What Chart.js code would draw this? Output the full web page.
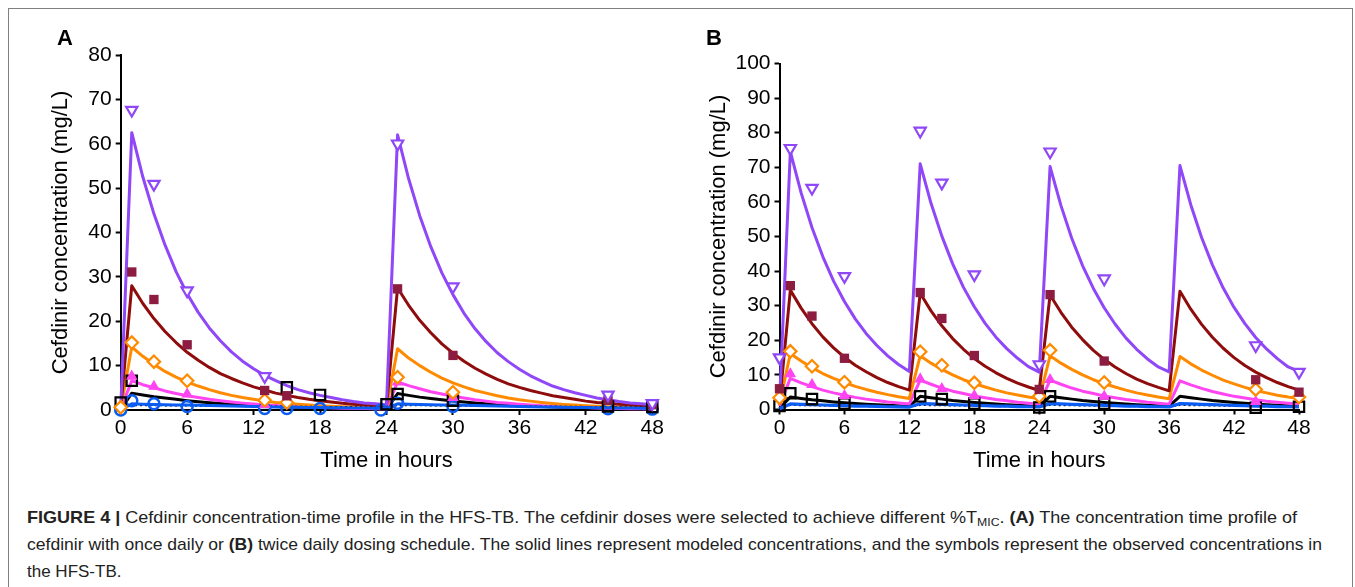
<!DOCTYPE html>
<html>
<head>
<meta charset="utf-8">
<script src="https://cdn.jsdelivr.net/npm/chart.js@4.4.1/dist/chart.umd.min.js"></script>
<style>
  html, body { margin:0; padding:0; background:#fff; }
  body { width:1355px; height:587px; position:relative; overflow:hidden; font-family:"Liberation Sans", Arial, sans-serif; }
  #frame { position:absolute; left:8px; top:8px; width:1345px; height:600px; border:1px solid #808080; box-sizing:border-box; }
  canvas { position:absolute; top:0; }
  #cA { left:0; }
  #cB { left:680px; }
  .plab { position:absolute; font-weight:bold; font-size:22px; line-height:22px; color:#000; }
  .cap { position:absolute; left:27px; font-size:17px; line-height:27px; color:#222; white-space:nowrap; transform-origin:0 50%; }
  .cap b { color:#222; }
  sub { font-size:0.68em; vertical-align:-0.25em; line-height:0; }
</style>
</head>
<body>
<div id="frame"></div>
<canvas id="cA" width="680" height="480"></canvas>
<canvas id="cB" width="675" height="480"></canvas>
<div class="plab" style="left:57px; top:27px;">A</div>
<div class="plab" style="left:706px; top:27px;">B</div>
<div class="cap" id="cap1" data-w="1270" style="top:504px;"><b>FIGURE 4 |</b> Cefdinir concentration-time profile in the HFS-TB. The cefdinir doses were selected to achieve different %T<sub>MIC</sub>. <b>(A)</b> The concentration time profile of</div>
<div class="cap" id="cap2" data-w="1295" style="top:531px;">cefdinir with once daily or <b>(B)</b> twice daily dosing schedule. The solid lines represent modeled concentrations, and the symbols represent the observed concentrations in</div>
<div class="cap" id="cap3" style="top:558px;">the HFS-TB.</div>
<script>
// ---------- tick labels / axes ----------
const xTicks = [0, 6, 12, 18, 24, 30, 36, 42, 48];
const yMaxA = 80, yMaxB = 100, yStep = 10;
const xTitle = "Time in hours";
const yTitle = "Cefdinir concentration (mg/L)";

// ---------- model time grid ----------
const hours = [0,1,2,3,4,5,6,7,8,9,10,11,12,13,14,15,16,17,18,19,20,21,22,23,24,25,26,27,28,29,30,31,32,33,34,35,36,37,38,39,40,41,42,43,44,45,46,47,48];

// ---------- Panel A: modeled (once daily) ----------
const purpleModelA = [0.3,62.5,52.5,44.2,37.2,31.2,26.2,22.0,18.5,15.6,13.1,11.0,9.3,7.8,6.6,5.5,4.6,3.9,3.3,2.8,2.3,1.9,1.6,1.4,1.2,
  62.0,52.1,43.8,36.8,30.9,26.0,21.8,18.3,15.4,12.9,10.9,9.2,7.7,6.5,5.4,4.6,3.9,3.3,2.7,2.3,1.9,1.6,1.4,1.2];
const darkredModelA = [0.3,28.0,24.0,20.6,17.7,15.2,13.0,11.2,9.6,8.2,7.1,6.1,5.2,4.5,3.8,3.3,2.8,2.4,2.1,1.8,1.5,1.3,1.1,1.0,0.9,
  27.5,23.6,20.2,17.4,14.9,12.8,11.0,9.4,8.1,6.9,5.9,5.1,4.4,3.8,3.2,2.8,2.4,2.0,1.7,1.5,1.3,1.1,1.0,0.9];
const orangeModelA = [0.3,14.2,12.1,10.3,8.7,7.4,6.3,5.4,4.6,3.9,3.3,2.8,2.4,2.0,1.7,1.5,1.3,1.1,0.95,0.85,0.75,0.68,0.62,0.56,0.5,
  13.8,11.7,10.0,8.5,7.2,6.1,5.2,4.4,3.8,3.2,2.7,2.3,2.0,1.7,1.45,1.25,1.1,0.95,0.85,0.75,0.68,0.62,0.56,0.5];
const pinkModelA = [0.2,6.6,5.7,5.0,4.3,3.7,3.2,2.8,2.4,2.1,1.8,1.55,1.35,1.15,1.0,0.87,0.75,0.65,0.56,0.48,0.42,0.36,0.31,0.27,0.24,
  6.3,5.5,4.8,4.1,3.6,3.1,2.7,2.3,2.0,1.7,1.5,1.3,1.1,0.95,0.82,0.71,0.62,0.54,0.46,0.4,0.35,0.3,0.26,0.23];
const blackModelA = [0.1,3.8,3.4,3.0,2.7,2.4,2.1,1.85,1.65,1.45,1.3,1.15,1.0,0.9,0.8,0.7,0.62,0.55,0.49,0.43,0.38,0.34,0.3,0.27,0.24,
  3.7,3.3,2.9,2.6,2.3,2.05,1.8,1.6,1.4,1.25,1.1,0.98,0.87,0.77,0.68,0.6,0.53,0.47,0.42,0.37,0.33,0.29,0.26,0.23];
const blueModelA = [0.0,1.4,1.3,1.25,1.2,1.15,1.1,1.05,1.0,0.95,0.9,0.85,0.8,0.75,0.7,0.66,0.62,0.58,0.55,0.52,0.49,0.46,0.43,0.4,0.38,
  1.4,1.3,1.25,1.2,1.15,1.1,1.05,1.0,0.95,0.9,0.85,0.8,0.75,0.7,0.66,0.62,0.58,0.55,0.52,0.49,0.46,0.43,0.4,0.38];
const dottedTimesA = [0,1,6,12,18,24,25,30,36,42,48];
const dottedModelA = [0.2,1.1,1.0,0.85,0.7,0.6,1.1,1.0,0.85,0.7,0.6];

// ---------- Panel A: observed ----------
const purpleObsTA = [1,3,6,13,25,30,44,48];
const purpleObsA  = [67.6,50.9,26.9,7.6,60,27.8,3.4,1.5];
const darkredObsTA = [1,3,6,13,15,25,30,44,48];
const darkredObsA  = [31.1,24.9,14.7,4.4,3.2,27.3,12.3,2.2,1.2];
const orangeObsTA = [0,1,3,6,13,15,25,30];
const orangeObsA  = [0.6,15.2,10.9,6.6,2.2,1.7,7.4,4.0];
const pinkObsTA = [1,3,6,13,25,30];
const pinkObsA  = [7.6,5.3,3.6,1.2,6.3,2.8];
const blackObsTA = [0,1,15,18,24,25,30,44,48];
const blackObsA  = [1.7,6.6,5.1,3.4,1.3,3.6,2.1,0.8,0.7];
const blueObsTA = [0,1,3,6,13,15,18,23.5,25,30,44,48];
const blueObsA  = [0,2.1,1.4,0.8,0.35,0.35,0.35,0,1.5,0.8,0.3,0.2];

// ---------- Panel B: modeled (twice daily) ----------
const purpleModelB = [2.0,74.5,62.6,52.6,44.2,37.1,31.2,26.2,22.0,18.5,15.5,13.0,11.0,
  71.0,59.6,50.1,42.1,35.3,29.7,24.9,20.9,17.6,14.8,12.4,10.8,
  70.2,59.0,49.5,41.6,35.0,29.4,24.7,20.7,17.4,14.6,12.3,10.9,
  70.5,59.2,49.7,41.8,35.1,29.5,24.8,20.8,17.5,14.7,12.3,11.0];
const darkredModelB = [1.5,34.5,29.3,24.8,21.0,17.8,15.1,12.8,10.9,9.2,7.8,6.6,5.6,
  33.6,28.5,24.2,20.5,17.4,14.7,12.5,10.6,9.0,7.6,6.5,5.5,
  33.1,28.1,23.8,20.2,17.1,14.5,12.3,10.4,8.8,7.5,6.4,5.4,
  34.2,29.0,24.6,20.9,17.7,15.0,12.7,10.8,9.2,7.8,6.6,5.6];
const orangeModelB = [1.5,16.2,14.0,12.1,10.4,9.0,7.8,6.7,5.8,5.0,4.3,3.7,3.2,
  15.5,13.4,11.6,10.0,8.6,7.5,6.5,5.6,4.8,4.2,3.6,3.1,
  15.5,13.4,11.6,10.0,8.6,7.5,6.5,5.6,4.8,4.2,3.6,3.1,
  15.3,13.2,11.4,9.9,8.5,7.4,6.4,5.5,4.8,4.1,3.6,3.2];
const pinkModelB = [1.0,9.0,7.7,6.6,5.6,4.8,4.1,3.5,3.0,2.6,2.2,1.9,1.6,
  8.5,7.3,6.2,5.3,4.6,3.9,3.4,2.9,2.5,2.1,1.8,1.5,
  8.5,7.3,6.2,5.3,4.6,3.9,3.4,2.9,2.5,2.1,1.8,1.5,
  8.3,7.1,6.1,5.2,4.5,3.8,3.3,2.8,2.4,2.1,1.8,1.5];
const blackModelB = [0.3,3.6,3.2,2.8,2.5,2.2,1.95,1.7,1.5,1.35,1.2,1.05,0.9,
  3.8,3.4,3.0,2.6,2.3,2.05,1.8,1.6,1.4,1.25,1.1,0.95,
  3.8,3.4,3.0,2.6,2.3,2.05,1.8,1.6,1.4,1.25,1.1,0.95,
  3.8,3.4,3.0,2.6,2.3,2.05,1.8,1.6,1.4,1.25,1.1,0.95];
const blueModelB = [0.2,1.6,1.5,1.4,1.3,1.2,1.1,1.0,0.95,0.9,0.8,0.75,0.7,
  1.7,1.6,1.5,1.4,1.3,1.2,1.1,1.0,0.95,0.85,0.8,0.75,
  1.7,1.6,1.5,1.4,1.3,1.2,1.1,1.0,0.95,0.85,0.8,0.75,
  1.7,1.6,1.5,1.4,1.3,1.2,1.1,1.0,0.95,0.85,0.8,0.75];
const dottedTimesB = [0,1,12,13,24,25,36,37,48];
const dottedModelB = [0.3,1.3,0.8,1.3,0.8,1.3,0.8,1.3,0.8];

// ---------- Panel B: observed ----------
const purpleObsTB = [0,1,3,6,13,15,18,24,25,30,44,48];
const purpleObsB  = [15,75.5,64,38.5,80.5,65.5,39,13,74.5,37.8,18.5,10.8];
const darkredObsTB = [0,1,3,6,13,15,18,24,25,30,44,48];
const darkredObsB  = [6,35.8,27,14.8,33.8,26.3,15.6,5.8,33.2,14,8.6,5];
const orangeObsTB = [0,1,3,6,13,15,18,24,25,30,44,48];
const orangeObsB  = [3.4,16.8,12.5,7.9,16.7,12.8,7.7,3.8,17.1,7.8,5.8,3.6];
const pinkObsTB = [1,3,6,13,15,18,25,30,44];
const pinkObsB  = [10.3,7.2,4.0,8.8,6.0,4.0,8.6,3.8,2.3];
const blackObsTB = [0,1,3,6,13,15,18,24,25,30,44,48];
const blackObsB  = [1,4.7,3,1.7,3.8,3,1.7,0.6,3.8,1.7,0.5,0.8];

// ---------- colours ----------
const C = {
  purple: '#8F47F7', darkred: '#8E0C0C', square: '#8C1D40', orange: '#FF8A00',
  pink: '#FF45F2', black: '#000000', blue: '#0B5CF2'
};

function xy(ts, vs) { return ts.map((t, i) => ({ x: t, y: vs[i] })); }
function modelDs(ts, vs, color, extra) {
  return Object.assign({ data: xy(ts, vs), showLine: true, borderColor: color, borderWidth: 3, pointRadius: 0,
    fill: false, tension: 0, order: 10, clip: false, borderJoinStyle: 'round' }, extra || {});
}
function obsDs(ts, vs, style, fill, stroke, r, extra) {
  return Object.assign({ data: xy(ts, vs), showLine: false, pointStyle: style, pointRadius: r,
    pointBackgroundColor: fill, pointBorderColor: stroke, pointBorderWidth: 2.2, order: 1, clip: false }, extra || {});
}

const FONT = '"Liberation Sans", Arial, sans-serif';

function makeChart(id, datasets, yMax, geo) {
  return new Chart(document.getElementById(id), {
    type: 'scatter',
    data: { datasets },
    options: {
      responsive: false, animation: false, events: [],
      layout: { padding: { left: 0, right: geo.padRight, top: geo.top, bottom: 0 } },
      plugins: { legend: { display: false }, tooltip: { enabled: false } },
      scales: {
        x: {
          type: 'linear', min: 0, max: 48,
          afterBuildTicks: (s) => { s.ticks = xTicks.map(v => ({ value: v })); },
          afterFit: (s) => { s.height = geo.xH; },
          ticks: { color: '#000', font: { family: FONT, size: 21 }, padding: 1, maxRotation: 0, autoSkip: false },
          grid: { drawOnChartArea: false, drawTicks: true, tickLength: 5, tickWidth: 2, tickColor: '#000' },
          border: { display: true, color: '#000', width: 2 },
          title: { display: true, text: xTitle, color: '#000', font: { family: FONT, size: 22 }, padding: { top: 0, bottom: 5.8 } }
        },
        y: {
          type: 'linear', min: 0, max: yMax,
          ticks: { stepSize: yStep, color: '#000', font: { family: FONT, size: 21 }, padding: 4 },
          afterFit: (s) => { s.width = geo.yW; },
          grid: { drawOnChartArea: false, drawTicks: true, tickLength: 5, tickWidth: 2, tickColor: '#000' },
          border: { display: true, color: '#000', width: 2 },
          title: { display: true, text: yTitle, color: '#000', font: { family: FONT, size: 22 }, padding: { top: geo.yTitlePad, bottom: 0 } }
        }
      }
    }
  });
}

const dsA = [
  modelDs(hours, purpleModelA, C.purple),
  modelDs(hours, darkredModelA, C.darkred),
  modelDs(hours, orangeModelA, C.orange),
  modelDs(hours, pinkModelA, C.pink),
  modelDs(hours, blackModelA, C.black),
  modelDs(dottedTimesA, dottedModelA, C.black, { borderWidth: 2, borderDash: [2, 3], order: 9 }),
  modelDs(hours, blueModelA, C.blue, { order: 8 }),
  obsDs(purpleObsTA, purpleObsA, 'triangle', '#fff', C.purple, 6.5, { rotation: 180 }),
  obsDs(darkredObsTA, darkredObsA, 'rect', C.square, C.square, 6.6, { pointBorderWidth: 0 }),
  obsDs(orangeObsTA, orangeObsA, 'rectRot', '#fff', C.orange, 6.2),
  obsDs(pinkObsTA, pinkObsA, 'triangle', C.pink, C.pink, 4.5),
  obsDs(blackObsTA, blackObsA, 'rect', 'rgba(255,255,255,0)', C.black, 7.3),
  obsDs(blueObsTA, blueObsA, 'circle', 'rgba(255,255,255,0)', C.blue, 5.5, { pointBorderWidth: 2.5 })
];
const dsB = [
  modelDs(hours, purpleModelB, C.purple),
  modelDs(hours, darkredModelB, C.darkred),
  modelDs(hours, orangeModelB, C.orange),
  modelDs(hours, pinkModelB, C.pink),
  modelDs(hours, blackModelB, C.black),
  modelDs(dottedTimesB, dottedModelB, C.black, { borderWidth: 2, borderDash: [2, 3], order: 9 }),
  modelDs(hours, blueModelB, C.blue, { order: 8, borderWidth: 3.2 }),
  obsDs(purpleObsTB, purpleObsB, 'triangle', '#fff', C.purple, 6.5, { rotation: 180 }),
  obsDs(darkredObsTB, darkredObsB, 'rect', C.square, C.square, 6.6, { pointBorderWidth: 0 }),
  obsDs(orangeObsTB, orangeObsB, 'rectRot', '#fff', C.orange, 6.2),
  obsDs(pinkObsTB, pinkObsB, 'triangle', C.pink, C.pink, 4.5),
  obsDs(blackObsTB, blackObsB, 'rect', 'rgba(255,255,255,0)', C.black, 7.3)
];

makeChart('cA', dsA, yMaxA, { top: 55, padRight: 27.7, xH: 70, yW: 120.7, yTitlePad: 47.5 });
makeChart('cB', dsB, yMaxB, { top: 63.5, padRight: 56, xH: 70.5, yW: 99.5, yTitlePad: 26.1 });

// fit caption lines to the reference line widths
document.querySelectorAll('.cap[data-w]').forEach(el => {
  const w = el.getBoundingClientRect().width;
  const target = parseFloat(el.dataset.w);
  if (w > 0) el.style.transform = 'scaleX(' + (target / w).toFixed(4) + ')';
});
</script>
</body>
</html>
